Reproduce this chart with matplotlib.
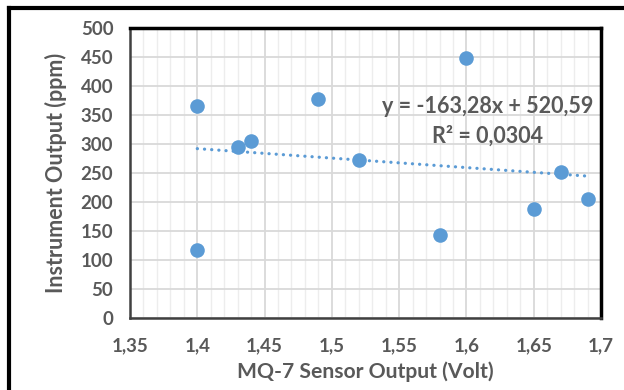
import matplotlib.pyplot as plt
from matplotlib.lines import Line2D
from matplotlib.ticker import MultipleLocator, FuncFormatter

# data
sensor_volt = [1.40, 1.40, 1.43, 1.44, 1.49, 1.52, 1.58, 1.60, 1.65, 1.67, 1.69]
instrument_ppm = [365, 118, 295, 305, 378, 273, 143, 449, 188, 251, 205]
slope = -163.28
intercept = 520.59
r2 = 0.0304

blue = '#5B9BD5'
grey = '#595959'
plt.rcParams['font.family'] = ['Lato', 'DejaVu Sans']

fig = plt.figure(figsize=(6.24, 3.9), dpi=100)
ax = fig.add_axes([130 / 624, 1 - 318 / 390, 471 / 624, 290 / 390])

ax.scatter(sensor_volt, instrument_ppm, s=110, color=blue, zorder=3, linewidths=0)
x0, x1 = min(sensor_volt), max(sensor_volt)
ax.plot([x0, x1], [slope * x0 + intercept, slope * x1 + intercept],
        color=blue, lw=2.3, linestyle=(0, (0.05, 2.2)), dash_capstyle='round', zorder=2)

ax.set_xlim(1.35, 1.7)
ax.set_ylim(0, 500)
ax.xaxis.set_major_locator(MultipleLocator(0.05))
ax.xaxis.set_minor_locator(MultipleLocator(0.01))
ax.yaxis.set_major_locator(MultipleLocator(50))
comma = FuncFormatter(lambda v, p: ('%g' % round(v, 2)).replace('.', ','))
ax.xaxis.set_major_formatter(comma)

ax.grid(which='major', color='#D9D9D9', lw=1.3)
ax.grid(which='minor', axis='x', color='#EDEDED', lw=1.0)
ax.set_axisbelow(True)
ax.tick_params(which='both', length=0, labelsize=13.5, labelcolor=grey)
ax.tick_params(axis='y', pad=12)
ax.tick_params(axis='x', pad=14)
for lab in ax.get_xticklabels() + ax.get_yticklabels():
    lab.set_fontweight('bold')

for side in ['top', 'right']:
    ax.spines[side].set_color('black')
    ax.spines[side].set_linewidth(2.5)
for side in ['left', 'bottom']:
    ax.spines[side].set_color('#404040')
    ax.spines[side].set_linewidth(1.8)

ax.set_xlabel('MQ-7 Sensor Output (Volt)', fontsize=15.2, fontweight='bold', color=grey, labelpad=5)
ax.set_ylabel('Instrument Output (ppm)', fontsize=15.5, fontweight='bold', color=grey, labelpad=10)

eq = 'y = %sx + %s' % (('%.2f' % slope).replace('.', ','), ('%.2f' % intercept).replace('.', ','))
ax.text(1.616, 364, eq, fontsize=15.5, fontweight='bold', color=grey, ha='center', va='center')
ax.text(1.616, 313, 'R² = ' + ('%.4f' % r2).replace('.', ','), fontsize=15.5,
        fontweight='bold', color=grey, ha='center', va='center')

fig.add_artist(Line2D([9 / 624, 1], [1 - 8 / 390] * 2, color='black', lw=3, transform=fig.transFigure))
fig.add_artist(Line2D([9 / 624] * 2, [0, 1 - 8 / 390], color='black', lw=3, transform=fig.transFigure))

fig.savefig('out.png', dpi=100)
